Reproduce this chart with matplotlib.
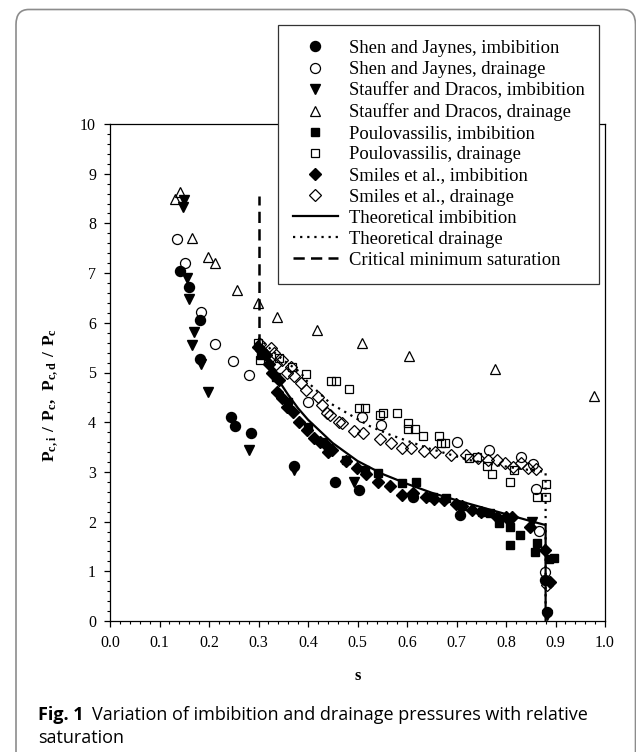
import numpy as np
import matplotlib
matplotlib.use("Agg")
import matplotlib.pyplot as plt
from matplotlib.ticker import MultipleLocator, FormatStrFormatter
from matplotlib.patches import FancyBboxPatch

# Shen and Jaynes
sj_imb_s = [0.142, 0.160, 0.182, 0.182, 0.244, 0.253, 0.285, 0.371, 0.455, 0.503,
            0.612, 0.707, 0.879, 0.882]
sj_imb_p = [7.04, 6.73, 6.06, 5.27, 4.11, 3.93, 3.78, 3.12, 2.80, 2.64,
            2.50, 2.13, 0.82, 0.19]
sj_dra_s = [0.136, 0.152, 0.184, 0.213, 0.248, 0.280, 0.401, 0.510, 0.548, 0.701,
            0.766, 0.830, 0.854, 0.860, 0.866, 0.879]
sj_dra_p = [7.69, 7.21, 6.22, 5.57, 5.24, 4.94, 4.41, 4.11, 3.94, 3.61,
            3.44, 3.29, 3.15, 2.65, 1.81, 0.99]

# Stauffer and Dracos
sd_imb_s = [0.150, 0.148, 0.156, 0.160, 0.169, 0.166, 0.183, 0.198, 0.281, 0.371,
            0.492, 0.852, 0.882]
sd_imb_p = [8.47, 8.34, 6.90, 6.47, 5.82, 5.55, 5.18, 4.61, 3.44, 3.04,
            2.80, 2.00, 0.12]
sd_dra_s = [0.131, 0.141, 0.166, 0.198, 0.213, 0.257, 0.299, 0.338, 0.418, 0.510,
            0.604, 0.777, 0.978]
sd_dra_p = [8.50, 8.64, 7.70, 7.32, 7.20, 6.65, 6.39, 6.12, 5.86, 5.60,
            5.33, 5.07, 4.53]

# Poulovassilis
po_imb_s = [0.305, 0.335, 0.360, 0.400, 0.430, 0.477, 0.515, 0.542, 0.590, 0.618,
            0.652, 0.679, 0.712, 0.752, 0.768, 0.786, 0.806, 0.809, 0.809, 0.829,
            0.859, 0.863, 0.886, 0.896]
po_imb_p = [5.35, 4.90, 4.40, 3.90, 3.60, 3.24, 3.04, 2.97, 2.77, 2.80,
            2.50, 2.47, 2.31, 2.20, 2.17, 1.97, 2.07, 1.90, 1.53, 1.73,
            1.39, 1.56, 1.24, 1.26]
po_dra_s = [0.298, 0.303, 0.341, 0.368, 0.395, 0.446, 0.457, 0.482, 0.504, 0.515,
            0.545, 0.552, 0.579, 0.602, 0.602, 0.616, 0.633, 0.665, 0.669, 0.677,
            0.725, 0.742, 0.762, 0.772, 0.809, 0.816, 0.862, 0.880, 0.880]
po_dra_p = [5.60, 5.25, 5.29, 5.12, 4.96, 4.82, 4.82, 4.66, 4.28, 4.28,
            4.14, 4.19, 4.19, 3.99, 3.86, 3.86, 3.73, 3.73, 3.58, 3.58,
            3.27, 3.29, 3.12, 2.96, 2.80, 3.04, 2.50, 2.50, 2.76]

# Smiles et al.
sm_imb_s = [0.298, 0.305, 0.315, 0.321, 0.328, 0.338, 0.341, 0.348, 0.358, 0.370,
            0.381, 0.398, 0.412, 0.425, 0.438, 0.441, 0.448, 0.477, 0.498, 0.518,
            0.542, 0.565, 0.589, 0.612, 0.639, 0.655, 0.675, 0.699, 0.712, 0.732,
            0.749, 0.782, 0.799, 0.812, 0.849, 0.879, 0.889]
sm_imb_p = [5.52, 5.45, 5.35, 5.18, 4.98, 4.61, 4.85, 4.48, 4.31, 4.21,
            4.01, 3.84, 3.68, 3.61, 3.52, 3.41, 3.44, 3.21, 3.07, 2.96,
            2.80, 2.72, 2.54, 2.58, 2.50, 2.45, 2.43, 2.35, 2.31, 2.23,
            2.20, 2.10, 2.09, 2.10, 1.90, 1.43, 0.79]
sm_dra_s = [0.303, 0.325, 0.331, 0.335, 0.348, 0.358, 0.365, 0.371, 0.385, 0.395,
            0.421, 0.428, 0.438, 0.445, 0.462, 0.468, 0.492, 0.512, 0.545, 0.568,
            0.589, 0.609, 0.635, 0.657, 0.689, 0.719, 0.744, 0.764, 0.781, 0.797,
            0.814, 0.831, 0.844, 0.861, 0.882]
sm_dra_p = [5.57, 5.49, 5.39, 5.18, 5.25, 4.98, 5.12, 4.93, 4.78, 4.65,
            4.51, 4.35, 4.18, 4.14, 4.01, 3.99, 3.82, 3.78, 3.66, 3.59,
            3.49, 3.49, 3.43, 3.41, 3.34, 3.34, 3.27, 3.24, 3.23, 3.18,
            3.10, 3.17, 3.07, 3.05, 0.72]

# theoretical curves
th_imb_s = [0.30, 0.32, 0.34, 0.36, 0.38, 0.40, 0.45, 0.50, 0.55, 0.60,
            0.65, 0.70, 0.75, 0.80, 0.85, 0.88, 0.88]
th_imb_p = [5.60, 5.20, 4.85, 4.55, 4.28, 4.05, 3.58, 3.22, 2.96, 2.76,
            2.58, 2.43, 2.29, 2.15, 2.01, 1.93, 0.0]
th_dra_s = [0.30, 0.33, 0.35, 0.385, 0.40, 0.445, 0.49, 0.525, 0.565, 0.605,
            0.645, 0.69, 0.725, 0.78, 0.83, 0.88, 0.88]
th_dra_p = [5.70, 5.42, 5.25, 5.00, 4.80, 4.38, 4.12, 3.92, 3.75, 3.61,
            3.47, 3.34, 3.24, 3.14, 3.06, 3.00, 0.0]
crit_s = [0.30, 0.30]
crit_p = [5.55, 8.55]

W, H = 636, 752
plt.rcParams['font.family'] = ['Liberation Serif', 'DejaVu Serif']
plt.rcParams['mathtext.fontset'] = 'custom'
plt.rcParams['mathtext.rm'] = 'Liberation Serif'
plt.rcParams['mathtext.bf'] = 'Liberation Serif:bold'

fig = plt.figure(figsize=(W / 100, H / 100), dpi=100)
ax = fig.add_axes([110 / W, 1 - 621 / H, 495 / W, 497 / H])

ms = 7.2
mew = 0.9
ax.plot(sj_imb_s, sj_imb_p, ls='none', marker='o', ms=ms, color='k',
        label='Shen and Jaynes, imbibition')
ax.plot(sj_dra_s, sj_dra_p, ls='none', marker='o', ms=ms, mfc='none', mec='k',
        mew=mew, label='Shen and Jaynes, drainage')
ax.plot(sd_imb_s, sd_imb_p, ls='none', marker='v', ms=ms, color='k',
        label='Stauffer and Dracos, imbibition')
ax.plot(sd_dra_s, sd_dra_p, ls='none', marker='^', ms=ms, mfc='none', mec='k',
        mew=mew, label='Stauffer and Dracos, drainage')
ax.plot(po_imb_s, po_imb_p, ls='none', marker='s', ms=ms - 0.8, color='k',
        label='Poulovassilis, imbibition')
ax.plot(po_dra_s, po_dra_p, ls='none', marker='s', ms=ms - 0.8, mfc='none',
        mec='k', mew=mew, label='Poulovassilis, drainage')
ax.plot(sm_imb_s, sm_imb_p, ls='none', marker='D', ms=ms - 1, color='k',
        label='Smiles et al., imbibition')
ax.plot(sm_dra_s, sm_dra_p, ls='none', marker='D', ms=ms - 1, mfc='none',
        mec='k', mew=mew, label='Smiles et al., drainage')
ax.plot(th_imb_s, th_imb_p, color='k', lw=1.6, label='Theoretical imbibition')
ax.plot(th_dra_s, th_dra_p, color='k', lw=1.6, ls=(0, (1, 2.2)),
        label='Theoretical drainage')
ax.plot(crit_s, crit_p, color='k', lw=1.8, ls=(0, (4.5, 2.5)),
        label='Critical minimum saturation')

ax.set_xlim(0, 1)
ax.set_ylim(0, 10)
ax.xaxis.set_major_locator(MultipleLocator(0.1))
ax.xaxis.set_minor_locator(MultipleLocator(0.02))
ax.yaxis.set_major_locator(MultipleLocator(1))
ax.yaxis.set_minor_locator(MultipleLocator(0.2))
ax.xaxis.set_major_formatter(FormatStrFormatter('%.1f'))
ax.tick_params(which='major', direction='out', length=4, width=0.9,
               labelsize=11.5, pad=6)
ax.tick_params(which='minor', direction='out', length=2.5, width=0.8)
for sp in ax.spines.values():
    sp.set_linewidth(0.9)

ax.set_xlabel('s', fontsize=12, fontweight='bold')
ax.xaxis.set_label_coords(0.5, (621 - 668) / 497)
ax.set_ylabel(r'$\mathbf{P_{c,i}\ /\ P_c,\ P_{c,d}\ /\ P_c}$', fontsize=12.5)
ax.yaxis.set_label_coords((60 - 110) / 495, (621 - 395) / 497)

leg = fig.legend(loc='upper left', bbox_to_anchor=(278 / W, 1 - 25 / H),
                 fontsize=13.4, frameon=True, fancybox=False, framealpha=1,
                 edgecolor='#333333', borderpad=0.8, labelspacing=0.22,
                 handlelength=2.4, handletextpad=0.6, numpoints=1,
                 borderaxespad=0)
leg.get_frame().set_linewidth(0.9)

# Springer-style frame and caption
frame = FancyBboxPatch((16 / W, -0.02), (635.5 - 16) / W, (1 - 9.5 / H) + 0.02,
                       boxstyle='round,pad=0,rounding_size=0.02',
                       transform=fig.transFigure, fill=False,
                       edgecolor='#8c8c8c', linewidth=1.2, clip_on=False)
fig.patches.append(frame)

cap_font = ['Open Sans', 'DejaVu Sans']
fig.text(38 / W, 1 - 715 / H, 'Fig. 1', family=cap_font, fontsize=13,
         fontweight='bold', va='center', ha='left')
fig.text(92 / W, 1 - 715 / H,
         'Variation of imbibition and drainage pressures with relative',
         family=cap_font, fontsize=13, va='center', ha='left')
fig.text(38 / W, 1 - 738 / H, 'saturation', family=cap_font, fontsize=13,
         va='center', ha='left')

fig.savefig('out.png', dpi=100)
